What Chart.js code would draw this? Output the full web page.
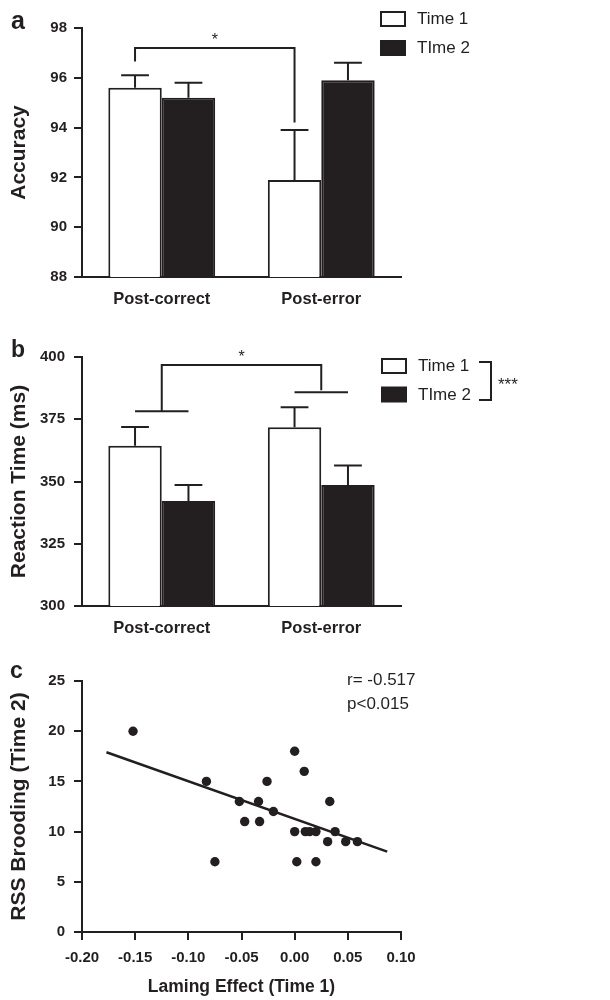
<!DOCTYPE html>
<html>
<head>
<meta charset="utf-8">
<script src="https://cdn.jsdelivr.net/npm/chart.js@4.4.1/dist/chart.umd.min.js"></script>
<style>
  body { margin: 0; background: #fff; }
  #wrap { position: relative; width: 610px; height: 1000px; }
  canvas { position: absolute; left: 0; }
</style>
</head>
<body>
<div id="wrap">
  <canvas id="chartA" width="610" height="310" style="top:0px"></canvas>
  <canvas id="chartB" width="610" height="330" style="top:310px"></canvas>
  <canvas id="chartC" width="610" height="360" style="top:640px"></canvas>
</div>
<script>
var categories = ['Post-correct', 'Post-error'];
var seriesNames = ['Time 1', 'TIme 2'];

// panel a: accuracy
var accTime1 = [95.6, 91.9];
var accTime2 = [95.2, 95.9];
var accErr1 = [0.5, 2.0];
var accErr2 = [0.6, 0.7];

// panel b: reaction time (ms)
var rtTime1 = [364.4, 371.8];
var rtTime2 = [342.2, 348.6];
var rtErr1 = [7.5, 8.0];
var rtErr2 = [6.4, 7.8];

// panel c: scatter
var laming = [-0.152, -0.083, -0.075, -0.052, -0.047, -0.034, -0.033, -0.026, -0.020, 0.000, 0.000,
              0.002, 0.009, 0.010, 0.014, 0.020, 0.020, 0.031, 0.033, 0.038, 0.048, 0.059];
var brooding = [20, 15, 7, 13, 11, 13, 11, 15, 12, 18, 10, 7, 16, 10, 10, 10, 7, 9, 13, 10, 9, 9];
var fitX = [-0.177, 0.087];
var fitY = [17.9, 8.0];

var INK = '#231f20';
var FONT = "'Liberation Sans', Arial, Helvetica, sans-serif";

Chart.defaults.font.family = FONT;
Chart.defaults.color = INK;
Chart.defaults.animation = false;

function barScales(min, max, step, yTitle, yPad, xHeight) {
  return {
    x: {
      grid: { display: false, drawTicks: false },
      border: { display: true, color: INK, width: 2 },
      ticks: { color: INK, padding: 13, font: { size: 16.5, weight: 'bold' } },
      afterFit: function(s) { s.height = xHeight; }
    },
    y: {
      min: min, max: max,
      grid: { display: true, drawOnChartArea: false, drawTicks: true, tickLength: 8, color: INK, lineWidth: 2 },
      border: { display: true, color: INK, width: 2 },
      ticks: { stepSize: step, color: INK, padding: yPad, font: { size: 15, weight: 'bold' } },
      title: { display: true, text: yTitle, color: INK, padding: { top: 7, bottom: 0 },
               font: { size: 21, weight: 'bold', lineHeight: 1.2 } },
      afterFit: function(s) { s.width = 82; }
    }
  };
}

// error bars (upward only) drawn from each dataset's errors array
var errorBars = {
  id: 'errorBars',
  afterDatasetsDraw: function(chart) {
    var ctx = chart.ctx, y = chart.scales.y;
    ctx.save();
    ctx.strokeStyle = INK;
    ctx.lineWidth = 2;
    chart.data.datasets.forEach(function(ds, di) {
      if (!ds.errors) return;
      chart.getDatasetMeta(di).data.forEach(function(bar, i) {
        var top = y.getPixelForValue(ds.data[i] + ds.errors[i]);
        var half = bar.width * 0.26;
        ctx.beginPath();
        ctx.moveTo(bar.x, bar.y);
        ctx.lineTo(bar.x, top);
        ctx.moveTo(bar.x - half, top);
        ctx.lineTo(bar.x + half, top);
        ctx.stroke();
      });
    });
    ctx.restore();
  }
};

function drawLegend(ctx, x, y1, y2) {
  ctx.save();
  ctx.lineWidth = 2;
  ctx.strokeStyle = INK;
  ctx.fillStyle = '#fff';
  ctx.fillRect(x, y1 - 7, 24, 14);
  ctx.strokeRect(x, y1 - 7, 24, 14);
  ctx.fillStyle = INK;
  ctx.fillRect(x - 1, y2 - 8, 26, 16);
  ctx.font = '17px ' + FONT;
  ctx.textBaseline = 'middle';
  ctx.fillText(seriesNames[0], x + 36, y1 + 0.5);
  ctx.fillText(seriesNames[1], x + 36, y2 + 0.5);
  ctx.restore();
}

function line(ctx, pts) {
  ctx.beginPath();
  ctx.moveTo(pts[0][0], pts[0][1]);
  for (var i = 1; i < pts.length; i++) ctx.lineTo(pts[i][0], pts[i][1]);
  ctx.stroke();
}

var decorA = {
  id: 'decorA',
  afterDraw: function(chart) {
    var ctx = chart.ctx, y = chart.scales.y;
    var m0 = chart.getDatasetMeta(0).data;
    ctx.save();
    ctx.fillStyle = INK;
    ctx.font = 'bold 25px ' + FONT;
    ctx.fillText('a', 11, 29);
    ctx.strokeStyle = INK;
    ctx.lineWidth = 2;
    var by = y.getPixelForValue(97.2);
    line(ctx, [[m0[0].x, y.getPixelForValue(96.65)], [m0[0].x, by], [m0[1].x, by], [m0[1].x, y.getPixelForValue(94.2)]]);
    ctx.font = '16px ' + FONT;
    ctx.textAlign = 'center';
    ctx.fillText('*', (m0[0].x + m0[1].x) / 2, by - 3);
    ctx.restore();
    drawLegend(ctx, 381, 19, 48);
  }
};

var decorB = {
  id: 'decorB',
  afterDraw: function(chart) {
    var ctx = chart.ctx, y = chart.scales.y;
    var m0 = chart.getDatasetMeta(0).data, m1 = chart.getDatasetMeta(1).data;
    ctx.save();
    ctx.fillStyle = INK;
    ctx.font = 'bold 23px ' + FONT;
    ctx.fillText('b', 11, 46.5);
    ctx.strokeStyle = INK;
    ctx.lineWidth = 2;
    var yPC = y.getPixelForValue(378.2), yPE = y.getPixelForValue(385.8), yTop = y.getPixelForValue(396.8);
    line(ctx, [[m0[0].x, yPC], [m1[0].x, yPC]]);
    line(ctx, [[m0[1].x, yPE], [m1[1].x, yPE]]);
    var cL = (m0[0].x + m1[0].x) / 2, cR = (m0[1].x + m1[1].x) / 2;
    line(ctx, [[cL, yPC], [cL, yTop], [cR, yTop], [cR, yPE - 2]]);
    ctx.font = '16px ' + FONT;
    ctx.textAlign = 'center';
    ctx.fillText('*', (cL + cR) / 2, yTop - 3);
    // bracket beside legend
    line(ctx, [[479, 52], [491, 52], [491, 90], [479, 90]]);
    ctx.textAlign = 'left';
    ctx.font = '17px ' + FONT;
    ctx.fillText('***', 498, 80);
    ctx.restore();
    drawLegend(ctx, 382, 56, 84.5);
  }
};

var decorC = {
  id: 'decorC',
  afterDraw: function(chart) {
    var ctx = chart.ctx;
    ctx.save();
    ctx.fillStyle = INK;
    ctx.font = 'bold 23px ' + FONT;
    ctx.fillText('c', 10, 38);
    ctx.font = '17px ' + FONT;
    ctx.textBaseline = 'middle';
    ctx.fillText('r= -0.517', 347, 40);
    ctx.fillText('p<0.015', 347, 64);
    ctx.restore();
  }
};

new Chart(document.getElementById('chartA'), {
  type: 'bar',
  data: {
    labels: categories,
    datasets: [
      { label: seriesNames[0], data: accTime1, errors: accErr1, backgroundColor: '#fff', borderColor: INK, borderWidth: 2 },
      { label: seriesNames[1], data: accTime2, errors: accErr2, backgroundColor: INK, borderColor: INK, borderWidth: 2 }
    ]
  },
  options: {
    responsive: false,
    categoryPercentage: 0.67,
    barPercentage: 1.0,
    layout: { padding: { top: 28, right: 209, left: 0, bottom: 0 } },
    plugins: { legend: { display: false }, tooltip: { enabled: false } },
    scales: barScales(88, 98, 2, 'Accuracy', 7, 33)
  },
  plugins: [errorBars, decorA]
});

new Chart(document.getElementById('chartB'), {
  type: 'bar',
  data: {
    labels: categories,
    datasets: [
      { label: seriesNames[0], data: rtTime1, errors: rtErr1, backgroundColor: '#fff', borderColor: INK, borderWidth: 2 },
      { label: seriesNames[1], data: rtTime2, errors: rtErr2, backgroundColor: INK, borderColor: INK, borderWidth: 2 }
    ]
  },
  options: {
    responsive: false,
    categoryPercentage: 0.67,
    barPercentage: 1.0,
    layout: { padding: { top: 47, right: 209, left: 0, bottom: 0 } },
    plugins: { legend: { display: false }, tooltip: { enabled: false } },
    scales: barScales(300, 400, 25, 'Reaction Time (ms)', 9, 34)
  },
  plugins: [errorBars, decorB]
});

var points = laming.map(function(v, i) { return { x: v, y: brooding[i] }; });
var fitLine = fitX.map(function(v, i) { return { x: v, y: fitY[i] }; });

new Chart(document.getElementById('chartC'), {
  type: 'scatter',
  data: {
    datasets: [
      { type: 'line', data: fitLine, borderColor: INK, borderWidth: 2.5, pointRadius: 0, fill: false },
      { data: points, backgroundColor: INK, borderColor: INK, pointRadius: 4.7, borderWidth: 0 }
    ]
  },
  options: {
    responsive: false,
    layout: { padding: { top: 41, right: 209, left: 0, bottom: 0 } },
    plugins: { legend: { display: false }, tooltip: { enabled: false } },
    scales: {
      x: {
        type: 'linear', min: -0.2, max: 0.1,
        grid: { display: true, drawOnChartArea: false, drawTicks: true, tickLength: 8, color: INK, lineWidth: 2 },
        border: { display: true, color: INK, width: 2 },
        ticks: { stepSize: 0.05, color: INK, padding: 9, font: { size: 15, weight: 'bold' },
                 callback: function(v) { return Math.abs(v) < 1e-9 ? '0.00' : v.toFixed(2); } },
        title: { display: true, text: 'Laming Effect (Time 1)', color: INK, padding: { top: 0, bottom: 2 },
                 font: { size: 17.5, weight: 'bold', lineHeight: 1.2 } },
        afterFit: function(s) { s.height = 68; }
      },
      y: {
        min: 0, max: 25,
        grid: { display: true, drawOnChartArea: false, drawTicks: true, tickLength: 8, color: INK, lineWidth: 2 },
        border: { display: true, color: INK, width: 2 },
        ticks: { stepSize: 5, color: INK, padding: 9, font: { size: 15, weight: 'bold' } },
        title: { display: true, text: 'RSS Brooding (Time 2)', color: INK, padding: { top: 7, bottom: 0 },
                 font: { size: 21, weight: 'bold', lineHeight: 1.2 } },
        afterFit: function(s) { s.width = 82; }
      }
    }
  },
  plugins: [decorC]
});
</script>
</body>
</html>
